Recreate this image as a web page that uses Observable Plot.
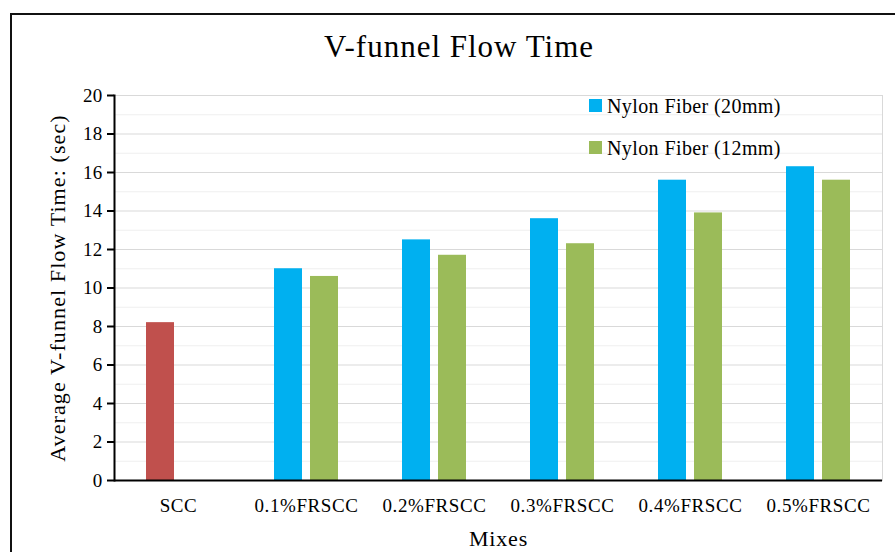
<!DOCTYPE html>
<html><head><meta charset="utf-8">
<script src="https://cdn.jsdelivr.net/npm/d3@7"></script>
<script src="https://cdn.jsdelivr.net/npm/@observablehq/plot@0.6"></script>
<style>
html,body{margin:0;padding:0;background:#fff;overflow:hidden;}
#wrap{position:relative;width:895px;height:552px;font-family:"Liberation Serif","Times New Roman",serif;color:#000;overflow:hidden;}
#border{position:absolute;left:10px;top:13px;width:900px;height:600px;border-left:2px solid #111;border-top:2px solid #111;}
#title{position:absolute;left:11px;width:896px;top:31px;line-height:31px;font-size:31px;letter-spacing:1px;text-align:center;}
#chart{position:absolute;left:0;top:75px;}
.legend-item{position:absolute;font-size:20px;line-height:20px;letter-spacing:0.4px;white-space:nowrap;}
.swatch{position:absolute;width:13px;height:13px;}
#chart g[aria-label="y-axis label"]{font-size:22px;letter-spacing:1.1px;}
#chart g[aria-label="fx-axis label"]{font-size:22px;letter-spacing:0.8px;}
#chart g[aria-label="fx-axis tick label"]{letter-spacing:0.6px;}
#chart g[aria-label="y-axis tick label"]{letter-spacing:0.3px;}
</style></head><body>
<div id="wrap">
 <div id="border"></div>
 <div id="title">V-funnel Flow Time</div>
 <div id="chart"></div>
 <div id="legend"></div>
</div>
<script>
const mixes = ["SCC", "0.1%FRSCC", "0.2%FRSCC", "0.3%FRSCC", "0.4%FRSCC", "0.5%FRSCC"];
const sccValues = [8.2, null, null, null, null, null];
const nylon20 = [null, 11.0, 12.5, 13.6, 15.6, 16.3];
const nylon12 = [null, 10.6, 11.7, 12.3, 13.9, 15.6];
const seriesNames = ["SCC", "Nylon Fiber (20mm)", "Nylon Fiber (12mm)"];
const seriesColors = ["#C0504D", "#00B0F0", "#9BBB59"];
const yMajorTicks = [0, 2, 4, 6, 8, 10, 12, 14, 16, 18, 20];
const yMinorTicks = [1, 3, 5, 7, 9, 11, 13, 15, 17, 19];

const rows = [];
mixes.forEach((m, i) => {
  if (sccValues[i] != null) rows.push({mix: m, slot: "a", series: seriesNames[0], value: sccValues[i]});
  if (nylon20[i] != null) rows.push({mix: m, slot: "a", series: seriesNames[1], value: nylon20[i]});
  if (nylon12[i] != null) rows.push({mix: m, slot: "b", series: seriesNames[2], value: nylon12[i]});
});

const chart = Plot.plot({
  width: 895, height: 477,
  marginLeft: 112, marginRight: 11, marginTop: 20, marginBottom: 72,
  style: {fontFamily: "'Liberation Serif','Times New Roman',serif", fontSize: "19px", color: "#000", background: "transparent"},
  fx: {domain: mixes, padding: 0},
  x: {domain: ["a", "b"], paddingInner: 0.216, paddingOuter: 0.847, axis: null},
  y: {domain: [0, 20]},
  color: {domain: seriesNames, range: seriesColors},
  marks: [
    Plot.ruleY(yMinorTicks, {stroke: "#efefef", strokeWidth: 1}),
    Plot.ruleY(yMajorTicks, {stroke: "#d9d9d9", strokeWidth: 1}),
    Plot.frame({anchor: "right", facetAnchor: "right", stroke: "#d9d9d9"}),
    Plot.barY(rows, {fx: "mix", x: "slot", y: "value", fill: "series"}),
    Plot.ruleY([0], {stroke: "#000", strokeWidth: 2}),
    Plot.frame({anchor: "left", facetAnchor: "left", stroke: "#000", strokeWidth: 2}),
    Plot.axisY(yMajorTicks, {tickSize: 7, tickPadding: 5, strokeWidth: 2, fontSize: 19,
      label: "Average V-funnel Flow Time: (sec)", labelAnchor: "center", labelOffset: 65, labelArrow: "none"}),
    Plot.axisFx({anchor: "bottom", tickSize: 0, tickPadding: 18, fontSize: 19,
      label: "Mixes", labelAnchor: "center", labelOffset: 65, labelArrow: "none"})
  ]
});
document.getElementById("chart").appendChild(chart);

const legend = document.getElementById("legend");
[1, 2].forEach((k, j) => {
  const sw = document.createElement("div");
  sw.className = "swatch";
  sw.style.left = "589px";
  sw.style.top = (99 + j * 42) + "px";
  sw.style.background = seriesColors[k];
  legend.appendChild(sw);
  const t = document.createElement("div");
  t.className = "legend-item";
  t.style.left = "607px";
  t.style.top = (95.5 + j * 42) + "px";
  t.textContent = seriesNames[k];
  legend.appendChild(t);
});
</script>
</body></html>
